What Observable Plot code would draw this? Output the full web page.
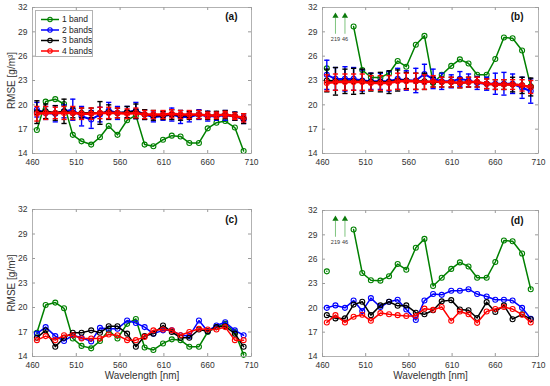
<!DOCTYPE html>
<html>
<head>
<meta charset="utf-8">
<script src="https://cdn.jsdelivr.net/npm/d3@7"></script>
<script src="https://cdn.jsdelivr.net/npm/@observablehq/plot@0.6"></script>
<style>
  html, body { margin: 0; padding: 0; background: #fff; }
  #chart { position: relative; width: 550px; height: 386px; overflow: hidden; font-family: "Liberation Sans", Arial, sans-serif; }
  .panel { position: absolute; }
  .legend { position: absolute; background: #fff; border: 1px solid #b3b3b3; box-sizing: border-box; }
</style>
</head>
<body>
<div id="chart"></div>
<script>
// ---------------- data ----------------
const wavelengths = [465, 475, 486, 496, 506, 516, 527, 537, 547, 557, 568, 578, 588, 598, 609, 619, 629, 639, 650, 660, 670, 680, 691, 701];
const xTicks = [460, 510, 560, 610, 660, 710];
const yTicks = [14, 17, 20, 23, 26, 29, 32];
const seriesNames = ["1 band", "2 bands", "3 bands", "4 bands"];
const seriesColors = ["#008000", "#0000ff", "#000000", "#ff0000"];
const panelTags = ["(a)", "(b)", "(c)", "(d)"];
const yLabel = "RMSE [g/m³]";
const xLabel = "Wavelength [nm]";

// panel (a): mean RMSE with error bars
const a1 = [16.9, 20.4, 20.7, 20.1, 16.3, 15.5, 15.1, 16.0, 17.4, 16.3, 18.1, 18.7, 15.1, 14.9, 15.7, 16.2, 16.1, 15.3, 15.3, 17.1, 17.8, 18.0, 17.2, 14.3];
const a2 = [19.4, 19.0, 18.9, 19.2, 19.4, 18.6, 18.2, 18.8, 19.3, 19.0, 19.1, 19.3, 18.8, 18.5, 18.6, 18.8, 18.5, 18.5, 18.8, 18.6, 18.6, 18.7, 18.6, 18.2];
const a2e = [0.9, 0.8, 1.0, 0.8, 1.3, 1.2, 1.1, 0.9, 1.0, 0.8, 0.7, 1.0, 0.6, 0.6, 0.5, 0.8, 0.8, 0.6, 0.6, 0.6, 0.5, 0.6, 0.5, 0.5];
const a3 = [19.1, 19.2, 19.0, 19.2, 19.0, 19.0, 19.0, 19.0, 19.1, 19.0, 19.1, 19.2, 18.8, 18.7, 18.7, 18.8, 18.7, 18.7, 18.8, 18.7, 18.7, 18.8, 18.6, 18.3];
const a3e = [1.4, 0.9, 0.9, 1.5, 0.6, 0.6, 0.6, 1.4, 0.9, 0.6, 0.7, 0.9, 0.6, 0.6, 0.5, 0.6, 0.6, 0.5, 0.5, 0.5, 0.5, 0.5, 0.5, 0.6];
const a4 = [18.9, 19.0, 19.0, 19.0, 19.0, 18.9, 18.9, 19.0, 19.0, 19.0, 18.9, 19.0, 18.8, 18.8, 18.8, 18.9, 18.8, 18.8, 18.8, 18.7, 18.7, 18.8, 18.6, 18.4];
const a4e = [0.9, 0.8, 0.7, 0.8, 0.8, 0.7, 0.7, 0.7, 0.7, 0.6, 0.6, 0.6, 0.5, 0.5, 0.5, 0.5, 0.5, 0.5, 0.5, 0.4, 0.4, 0.4, 0.4, 0.5];

// panel (b)
const b1 = [24.5, 219, 46, 29.65, 24.3, 23.4, 23.35, 23.9, 25.4, 24.7, 27.4, 28.5, 22.7, 23.7, 24.8, 25.6, 25.1, 23.7, 23.7, 25.65, 28.3, 28.2, 26.7, 22.3];
const b2 = [23.7, 23.2, 23.2, 23.2, 23.0, 22.9, 22.9, 22.9, 23.2, 23.0, 23.0, 23.8, 23.2, 22.9, 22.9, 23.2, 23.0, 22.7, 22.6, 22.6, 22.6, 22.6, 22.1, 21.7];
const b2e = [1.8, 1.4, 1.5, 1.4, 1.3, 1.0, 1.0, 1.2, 1.3, 1.2, 1.5, 1.2, 1.2, 1.0, 0.8, 0.9, 0.8, 0.8, 0.8, 1.3, 1.4, 1.2, 1.3, 1.5];
const b3 = [23.0, 22.9, 22.9, 22.9, 22.9, 22.8, 22.8, 22.8, 23.0, 23.0, 22.9, 22.9, 22.8, 22.8, 22.8, 22.7, 22.8, 22.8, 22.6, 22.5, 22.5, 22.5, 22.4, 22.2];
const b3e = [1.4, 1.7, 1.5, 1.6, 1.5, 1.1, 1.2, 1.4, 1.3, 1.0, 1.0, 1.0, 0.6, 0.6, 0.6, 0.6, 0.6, 0.6, 0.6, 0.6, 0.6, 0.9, 1.0, 1.1];
const b4 = [22.7, 22.8, 22.8, 22.8, 22.8, 22.7, 22.7, 22.7, 22.9, 22.9, 22.9, 22.8, 22.9, 22.8, 22.8, 22.7, 22.8, 22.8, 22.6, 22.5, 22.5, 22.5, 22.4, 22.2];
const b4e = [1.0, 1.0, 1.0, 1.0, 1.0, 0.9, 0.9, 0.9, 1.0, 1.0, 1.0, 0.9, 0.7, 0.6, 0.6, 0.6, 0.6, 0.6, 0.6, 0.6, 0.6, 0.6, 0.7, 0.8];

// panel (c)
const c1 = [16.9, 20.3, 20.6, 19.9, 16.2, 15.3, 15.0, 15.9, 17.2, 16.2, 18.0, 18.6, 15.1, 14.8, 15.6, 16.1, 16.0, 15.2, 15.2, 17.0, 17.6, 18.0, 17.0, 14.2];
const c2 = [16.8, 17.6, 16.5, 15.9, 16.6, 16.3, 15.85, 17.5, 17.4, 17.4, 18.4, 18.1, 17.6, 16.8, 17.2, 17.2, 16.6, 16.5, 18.4, 17.1, 17.8, 18.2, 17.2, 16.6];
const c3 = [16.3, 17.2, 15.2, 16.3, 16.9, 16.9, 17.2, 16.9, 17.7, 17.7, 16.8, 15.2, 16.5, 16.8, 17.8, 17.0, 16.3, 16.3, 17.3, 17.1, 17.6, 17.7, 16.8, 15.2];
const c4 = [16.0, 16.5, 16.0, 16.6, 16.6, 16.2, 16.2, 16.2, 16.7, 16.6, 16.0, 16.0, 16.4, 17.2, 17.3, 17.2, 16.6, 17.0, 17.4, 17.3, 17.3, 17.6, 16.0, 16.0];

// panel (d)
const d1 = [24.5, 219, 46, 29.65, 24.3, 23.4, 23.35, 23.9, 25.4, 24.7, 27.4, 28.5, 22.7, 23.7, 24.8, 25.6, 25.1, 23.7, 23.7, 25.65, 28.3, 28.2, 26.7, 22.3];
const d2 = [20.0, 20.3, 20.0, 20.9, 19.6, 21.2, 20.1, 20.75, 21.0, 19.8, 18.5, 20.9, 21.7, 21.6, 22.1, 22.1, 22.3, 21.7, 21.4, 21.0, 21.0, 20.9, 20.0, 18.65];
const d3 = [19.1, 18.7, 18.7, 20.4, 20.75, 19.1, 20.3, 20.75, 20.25, 20.3, 19.4, 19.2, 19.7, 20.8, 20.95, 19.8, 19.7, 18.75, 20.7, 19.5, 20.3, 18.6, 19.2, 18.6];
const d4 = [18.2, 19.1, 18.2, 18.9, 19.15, 18.4, 19.35, 19.2, 19.1, 19.0, 19.0, 19.9, 19.75, 20.1, 18.4, 19.55, 19.2, 18.15, 19.55, 19.85, 20.1, 19.85, 19.15, 18.2];

// ---------------- layout ----------------
const layouts = [
  {left: 0,   top: 0,   width: 275, height: 190, margin: {top: 7,  right: 24, bottom: 37, left: 32}},
  {left: 275, top: 0,   width: 275, height: 190, margin: {top: 7,  right: 12, bottom: 37, left: 47}},
  {left: 0,   top: 190, width: 275, height: 196, margin: {top: 19, right: 24, bottom: 30, left: 32}},
  {left: 275, top: 190, width: 275, height: 196, margin: {top: 20, right: 12, bottom: 30, left: 47}}
];

const capSymbol = {
  draw(context, size) {
    const r = Math.sqrt(size / Math.PI);
    context.moveTo(-r, 0);
    context.lineTo(r, 0);
  }
};

const chart = document.getElementById("chart");

function makePanel(idx, values, errors, opts) {
  const L = layouts[idx];
  const innerW = L.width - L.margin.left - L.margin.right;
  const innerH = L.height - L.margin.top - L.margin.bottom;
  const yMin = yTicks[0], yMax = yTicks[yTicks.length - 1];
  const tickStroke = "#808080";
  const marks = [
    Plot.tickX(xTicks, {x: d => d, insetTop: innerH - 3, stroke: tickStroke, strokeWidth: 0.8}),
    Plot.tickX(xTicks, {x: d => d, insetBottom: innerH - 3, stroke: tickStroke, strokeWidth: 0.8}),
    Plot.tickY(yTicks, {y: d => d, insetRight: innerW - 3, stroke: tickStroke, strokeWidth: 0.8}),
    Plot.tickY(yTicks, {y: d => d, insetLeft: innerW - 3, stroke: tickStroke, strokeWidth: 0.8}),
    Plot.axisX(xTicks, {tickSize: 0, tickPadding: 5, label: null}),
    Plot.axisY(yTicks, {tickSize: 0, tickPadding: 5, label: null})
  ];
  values.forEach((vals, s) => {
    const color = seriesColors[s];
    const rows = wavelengths.map((x, j) => ({x, y: vals[j], e: errors && errors[s] ? errors[s][j] : 0}));
    const shown = rows.map(r => ({x: r.x, y: r.y <= yMax ? r.y : NaN, e: r.e}));
    if (errors && errors[s]) {
      const ew = 1.4;
      marks.push(Plot.ruleX(rows, {x: "x", y1: d => d.y - d.e, y2: d => d.y + d.e, stroke: color, strokeWidth: ew}));
      marks.push(Plot.dot(rows, {x: "x", y: d => d.y - d.e, symbol: capSymbol, r: 2.6, stroke: color, strokeWidth: ew, fill: "none"}));
      marks.push(Plot.dot(rows, {x: "x", y: d => d.y + d.e, symbol: capSymbol, r: 2.6, stroke: color, strokeWidth: ew, fill: "none"}));
    }
    const lw = opts.lineWidths[s];
    marks.push(Plot.line(shown, {x: "x", y: "y", stroke: color, strokeWidth: lw}));
    marks.push(Plot.dot(shown, {x: "x", y: "y", r: 2.5, stroke: color, strokeWidth: 1.1, fill: "none"}));
    if (opts.offChart) {
      const off = rows.filter(r => r.y > yMax);
      marks.push(Plot.ruleX(off, {x: "x", y1: yMax - 3.3, y2: yMax - 1.3, stroke: "#7fc47f", strokeWidth: 1}));
      marks.push(Plot.dot(off, {x: "x", y: yMax - 1.05, symbol: "triangle", r: 2.3, fill: "#0b7a0b", stroke: "none"}));
      marks.push(Plot.text(off, {x: "x", y: yMax - 3.9, text: d => String(d.y), fontSize: 5.5, fill: "#333"}));
    }
  });
  marks.push(Plot.frame({stroke: "#a0a0a0", strokeWidth: 0.8}));
  marks.push(Plot.text([panelTags[idx]], {frameAnchor: "top-right", dx: opts.tagDx, dy: opts.tagDy, fontWeight: "bold", fontSize: 10, fill: "#111"}));
  if (opts.yLabel) {
    marks.push(Plot.text([yLabel], {frameAnchor: "left", rotate: -90, dx: -21, textAnchor: "middle", lineAnchor: "middle", fontSize: 10, fill: "#333"}));
  }
  if (opts.xLabel) {
    marks.push(Plot.text([xLabel], {frameAnchor: "bottom", dy: 19, textAnchor: "middle", lineAnchor: "middle", fontSize: 10, fill: "#333"}));
  }
  const svg = Plot.plot({
    width: L.width,
    height: L.height,
    marginTop: L.margin.top,
    marginRight: L.margin.right,
    marginBottom: L.margin.bottom,
    marginLeft: L.margin.left,
    x: {domain: [xTicks[0], xTicks[xTicks.length - 1]]},
    y: {domain: [yMin, yMax]},
    style: {fontSize: "8.5px", fontFamily: "'Liberation Sans', Arial, sans-serif", color: "#333", background: "transparent", overflow: "visible"},
    marks
  });
  const div = document.createElement("div");
  div.className = "panel";
  div.style.left = L.left + "px";
  div.style.top = L.top + "px";
  div.appendChild(svg);
  chart.appendChild(div);
}

const thick = [1.5, 2, 2, 2.5];
const thin = [1.5, 1.5, 1.5, 1.5];

makePanel(0, [a1, a2, a3, a4], [null, a2e, a3e, a4e], {lineWidths: thick, tagDx: -14, tagDy: 5, yLabel: true});
makePanel(1, [b1, b2, b3, b4], [null, b2e, b3e, b4e], {lineWidths: thick, tagDx: -15, tagDy: 5, offChart: true});
makePanel(2, [c1, c2, c3, c4], null, {lineWidths: thin, tagDx: -14, tagDy: 6, yLabel: true, xLabel: true});
makePanel(3, [d1, d2, d3, d4], null, {lineWidths: thin, tagDx: -15, tagDy: 6, offChart: true, xLabel: true});

// ---------------- legend (panel a) ----------------
const NS = "http://www.w3.org/2000/svg";
const legendBox = {left: 35, top: 10, width: 58, height: 47};
const legend = document.createElement("div");
legend.className = "legend";
Object.assign(legend.style, {left: legendBox.left + "px", top: legendBox.top + "px", width: legendBox.width + "px", height: legendBox.height + "px"});
chart.appendChild(legend);
const lsvg = document.createElementNS(NS, "svg");
lsvg.setAttribute("width", legendBox.width - 2);
lsvg.setAttribute("height", legendBox.height - 2);
lsvg.style.display = "block";
legend.appendChild(lsvg);
function el(tag, attrs) {
  const e = document.createElementNS(NS, tag);
  for (const k in attrs) e.setAttribute(k, attrs[k]);
  lsvg.appendChild(e);
  return e;
}
seriesNames.forEach((name, i) => {
  const y = 8.5 + i * 10.5;
  el("line", {x1: 5, x2: 23, y1: y, y2: y, stroke: seriesColors[i], "stroke-width": 1.5});
  el("circle", {cx: 14, cy: y, r: 2.2, fill: "none", stroke: seriesColors[i], "stroke-width": 1.1});
  const t = el("text", {x: 26, y: y, dy: "0.35em", "font-size": 8.5, fill: "#222", "font-family": "'Liberation Sans', Arial, sans-serif"});
  t.textContent = name;
});
</script>
</body>
</html>
